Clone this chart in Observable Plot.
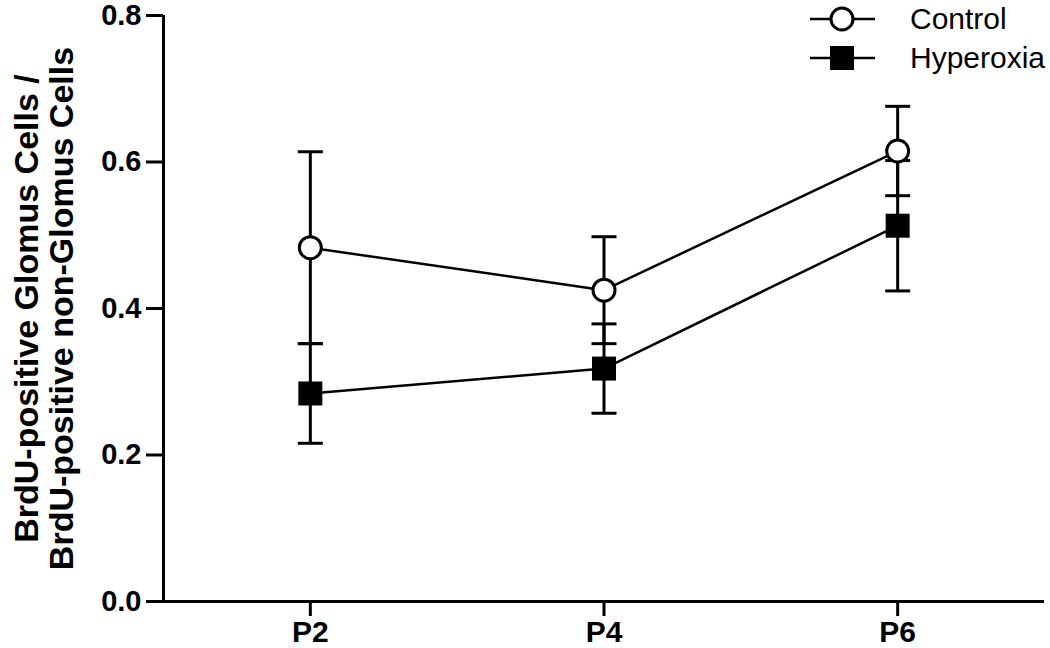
<!DOCTYPE html>
<html>
<head>
<meta charset="utf-8">
<script src="https://cdn.jsdelivr.net/npm/d3@7"></script>
<script src="https://cdn.jsdelivr.net/npm/@observablehq/plot@0.6"></script>
<style>
  html, body { margin: 0; padding: 0; background: #fff; }
  #wrap { position: relative; width: 1050px; height: 648px; font-family: "Liberation Sans", Arial, sans-serif; }
  #legend { position: absolute; left: 805px; top: -1px; }
  #legend .row { display: flex; align-items: center; height: 39px; }
  #legend .row span { font-size: 30px; color: #000; margin-left: 30px; }
</style>
</head>
<body>
<div id="wrap"><div id="chart"></div><div id="legend"></div></div>
<script>
// ---- data ----
const timepoints = ["P2", "P4", "P6"];
const days = [2, 4, 6];
const controlMean = [0.483, 0.425, 0.615];
const controlSem = [0.131, 0.073, 0.061];
const hyperoxiaMean = [0.284, 0.318, 0.513];
const hyperoxiaSem = [0.068, 0.061, 0.089];
const yTicks = [0, 0.2, 0.4, 0.6, 0.8];
const seriesNames = ["Control", "Hyperoxia"];
const yTitle = "BrdU-positive Glomus Cells /\nBrdU-positive non-Glomus Cells";

const control = days.map((d, i) => ({day: d, label: timepoints[i], mean: controlMean[i], lo: controlMean[i] - controlSem[i], hi: controlMean[i] + controlSem[i]}));
const hyper = days.map((d, i) => ({day: d, label: timepoints[i], mean: hyperoxiaMean[i], lo: hyperoxiaMean[i] - hyperoxiaSem[i], hi: hyperoxiaMean[i] + hyperoxiaSem[i]}));

const capSymbol = {
  draw(ctx, size) {
    const w = Math.sqrt(size / Math.PI);
    ctx.moveTo(-w, 0);
    ctx.lineTo(w, 0);
  }
};

const SW = 3;
function errorMarks(data) {
  return [
    Plot.ruleX(data, {x: "day", y1: "lo", y2: "hi", stroke: "black", strokeWidth: SW}),
    Plot.dot(data, {x: "day", y: "lo", symbol: capSymbol, r: 12.5, fill: "none", stroke: "black", strokeWidth: SW}),
    Plot.dot(data, {x: "day", y: "hi", symbol: capSymbol, r: 12.5, fill: "none", stroke: "black", strokeWidth: SW})
  ];
}

const chart = Plot.plot({
  width: 1050,
  height: 648,
  marginLeft: 163,
  marginRight: 6,
  marginTop: 15,
  marginBottom: 47,
  style: {fontFamily: "Liberation Sans, Arial, sans-serif", background: "white", color: "black", overflow: "visible"},
  x: {type: "linear", domain: [days[0] - 1, days[days.length - 1] + 1], axis: null},
  y: {domain: [0, 0.8], axis: null},
  marks: [
    Plot.axisY({ticks: yTicks, tickFormat: d3.format(".1f"), tickSize: 17, tickPadding: 5, strokeWidth: SW, fontSize: 29, fontWeight: "bold", label: null}),
    Plot.axisX({ticks: days, tickFormat: (d) => timepoints[days.indexOf(d)], tickSize: 15, tickPadding: 4, strokeWidth: SW, fontSize: 30, fontWeight: "bold", label: null}),
    Plot.ruleY([0], {stroke: "black", strokeWidth: SW}),
    Plot.ruleX([days[0] - 1], {stroke: "black", strokeWidth: SW}),
    Plot.text([yTitle], {frameAnchor: "left", rotate: -90, dx: -119, fontSize: 34, fontWeight: "bold", lineHeight: 1.03, textAnchor: "middle", fill: "black"}),
    Plot.line(control, {x: "day", y: "mean", stroke: "black", strokeWidth: 2.5}),
    Plot.line(hyper, {x: "day", y: "mean", stroke: "black", strokeWidth: 2.5}),
    ...errorMarks(control),
    ...errorMarks(hyper),
    Plot.dot(control, {x: "day", y: "mean", r: 11, fill: "white", stroke: "black", strokeWidth: SW}),
    Plot.dot(hyper, {x: "day", y: "mean", symbol: "square", r: 13.54, fill: "black", stroke: "none"})
  ]
});
document.getElementById("chart").appendChild(chart);

// legend
const legend = document.getElementById("legend");
seriesNames.forEach((name, i) => {
  const row = document.createElement("div");
  row.className = "row";
  const marker = i === 0
    ? '<line x1="5" y1="20" x2="70" y2="20" stroke="black" stroke-width="2.5"/><circle cx="37" cy="20" r="11" fill="white" stroke="black" stroke-width="3"/>'
    : '<line x1="5" y1="20" x2="70" y2="20" stroke="black" stroke-width="2.5"/><rect x="25" y="8" width="24" height="24" fill="black"/>';
  row.innerHTML = `<svg width="75" height="40">${marker}</svg><span>${name}</span>`;
  legend.appendChild(row);
});
</script>
</body>
</html>
